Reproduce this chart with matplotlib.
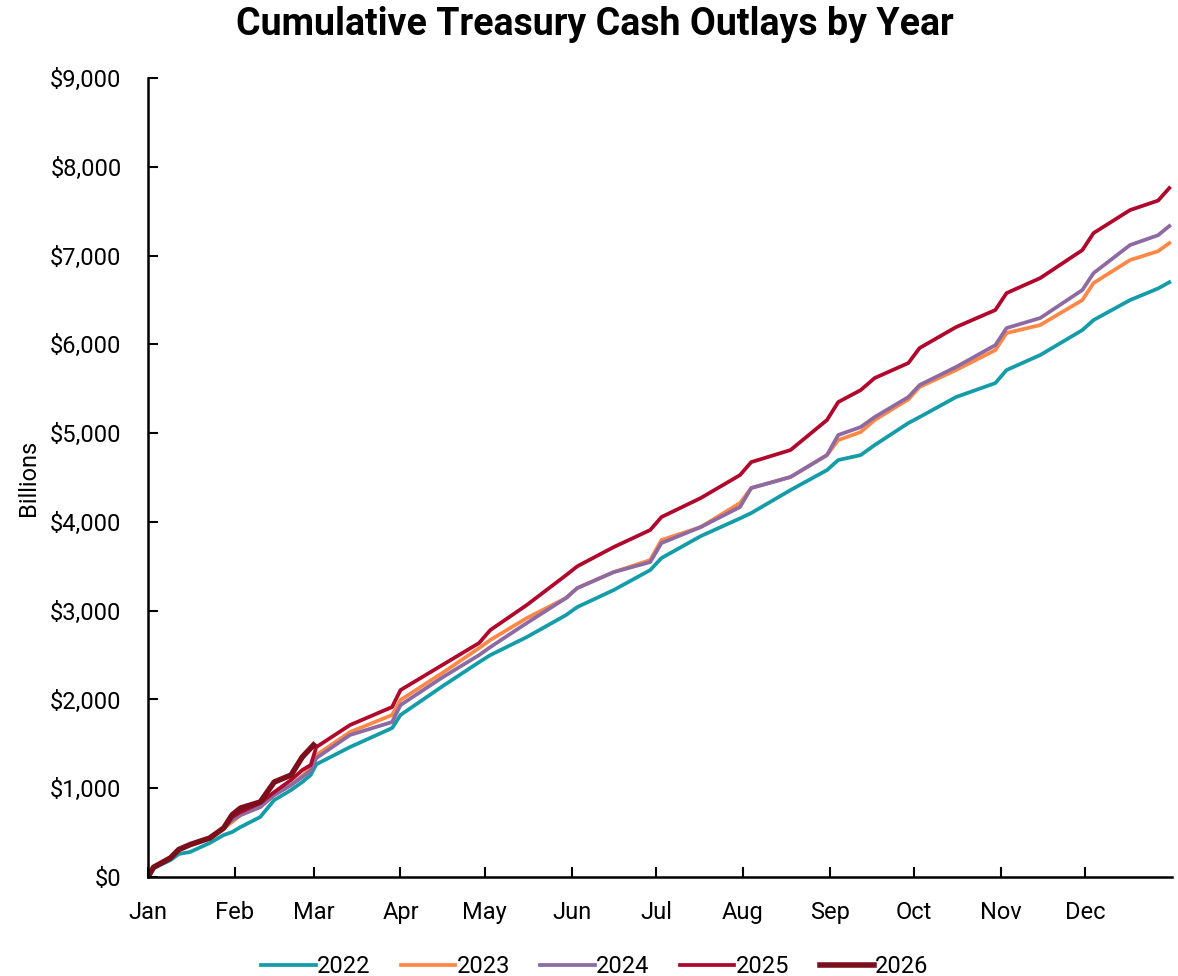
import numpy as np
import matplotlib
matplotlib.use('Agg')
import matplotlib.pyplot as plt
from matplotlib.ticker import FuncFormatter

plt.rcParams['font.family'] = ['Roboto', 'DejaVu Sans']

# day of year for the read-off points
days = [0, 2, 8, 11, 15, 22, 27, 30, 33, 40, 45, 51, 55, 58, 60, 72, 87, 90, 105,
        118, 122, 135, 149, 153, 166, 179, 183, 197, 211, 215, 229, 242, 246, 254,
        259, 271, 275, 288, 302, 306, 318, 333, 337, 350, 360, 364]

# cumulative outlays, billions
y2022 = [0, 100, 190, 260, 282, 383, 473, 507, 563, 676, 867, 980, 1070, 1150, 1270,
         1464, 1678, 1825, 2150, 2420, 2500, 2703, 2951, 3041, 3233, 3458, 3593, 3840,
         4040, 4100, 4359, 4584, 4697, 4753, 4866, 5114, 5181, 5407, 5564, 5711, 5880,
         6161, 6274, 6499, 6630, 6700]
y2023 = [0, 110, 210, 300, 360, 439, 552, 620, 698, 788, 924, 1036, 1140, 1230, 1374,
         1633, 1825, 1994, 2300, 2579, 2670, 2917, 3143, 3255, 3435, 3571, 3796, 3942,
         4213, 4382, 4506, 4753, 4922, 5012, 5148, 5380, 5520, 5711, 5936, 6128, 6218,
         6499, 6691, 6950, 7050, 7141]
y2024 = [0, 110, 215, 310, 365, 439, 552, 642, 698, 788, 924, 1036, 1126, 1200, 1340,
         1600, 1746, 1937, 2250, 2500, 2590, 2861, 3143, 3255, 3435, 3548, 3762, 3942,
         4168, 4382, 4506, 4753, 4979, 5069, 5181, 5407, 5542, 5745, 5992, 6184, 6297,
         6612, 6803, 7119, 7230, 7333]
y2025 = [0, 110, 215, 310, 365, 439, 552, 676, 732, 833, 957, 1093, 1205, 1262, 1464,
         1712, 1915, 2106, 2390, 2636, 2782, 3064, 3400, 3500, 3717, 3909, 4055, 4269,
         4528, 4674, 4810, 5148, 5350, 5485, 5621, 5790, 5959, 6195, 6387, 6578, 6747,
         7062, 7254, 7513, 7620, 7761]
days2026 = [0, 2, 8, 11, 15, 22, 27, 30, 33, 40, 45, 51, 55, 59]
y2026 = [0, 110, 215, 310, 365, 439, 552, 700, 777, 845, 1070, 1149, 1352, 1487]

month_days = [0, 31, 59, 90, 120, 151, 181, 212, 243, 273, 304, 334]
month_labels = ['Jan', 'Feb', 'Mar', 'Apr', 'May', 'Jun', 'Jul', 'Aug', 'Sep', 'Oct', 'Nov', 'Dec']

fig = plt.figure(figsize=(11.78, 9.76), dpi=100)
ax = fig.add_axes([0.1256, 0.1014, 0.8694, 0.8186])

ax.plot(days, y2022, color='#149ca8', lw=2.7, label='2022', solid_joinstyle='round')
ax.plot(days, y2023, color='#ff8847', lw=2.7, label='2023', solid_joinstyle='round')
ax.plot(days, y2024, color='#8e6aa3', lw=2.7, label='2024', solid_joinstyle='round')
ax.plot(days, y2025, color='#b0072c', lw=2.7, label='2025', solid_joinstyle='round')
ax.plot(days2026, y2026, color='#7b0f1b', lw=4.0, label='2026', solid_joinstyle='round')

ax.set_xlim(0, 365)
ax.set_ylim(0, 9000)
ax.set_xticks(month_days)
ax.set_xticklabels(month_labels)
ax.set_yticks(np.arange(0, 9001, 1000))
ax.yaxis.set_major_formatter(FuncFormatter(lambda v, p: '${:,.0f}'.format(v)))
ax.tick_params(direction='in', length=7, width=1.5, labelsize=17)
ax.tick_params(axis='x', pad=17)
ax.tick_params(axis='y', pad=19)

for s in ['top', 'right']:
    ax.spines[s].set_visible(False)
for s in ['left', 'bottom']:
    ax.spines[s].set_linewidth(1.8)

ax.set_ylabel('Billions', fontsize=17, labelpad=7)
fig.text(0.505, 0.975, 'Cumulative Treasury Cash Outlays by Year', ha='center', va='center',
         fontsize=27, fontweight='bold')

fig.legend(loc='lower center', ncol=5, frameon=False, fontsize=17,
           bbox_to_anchor=(0.505, -0.024), handlelength=2.3, columnspacing=1.3,
           handletextpad=0.05)

fig.savefig('out.png', dpi=100)
